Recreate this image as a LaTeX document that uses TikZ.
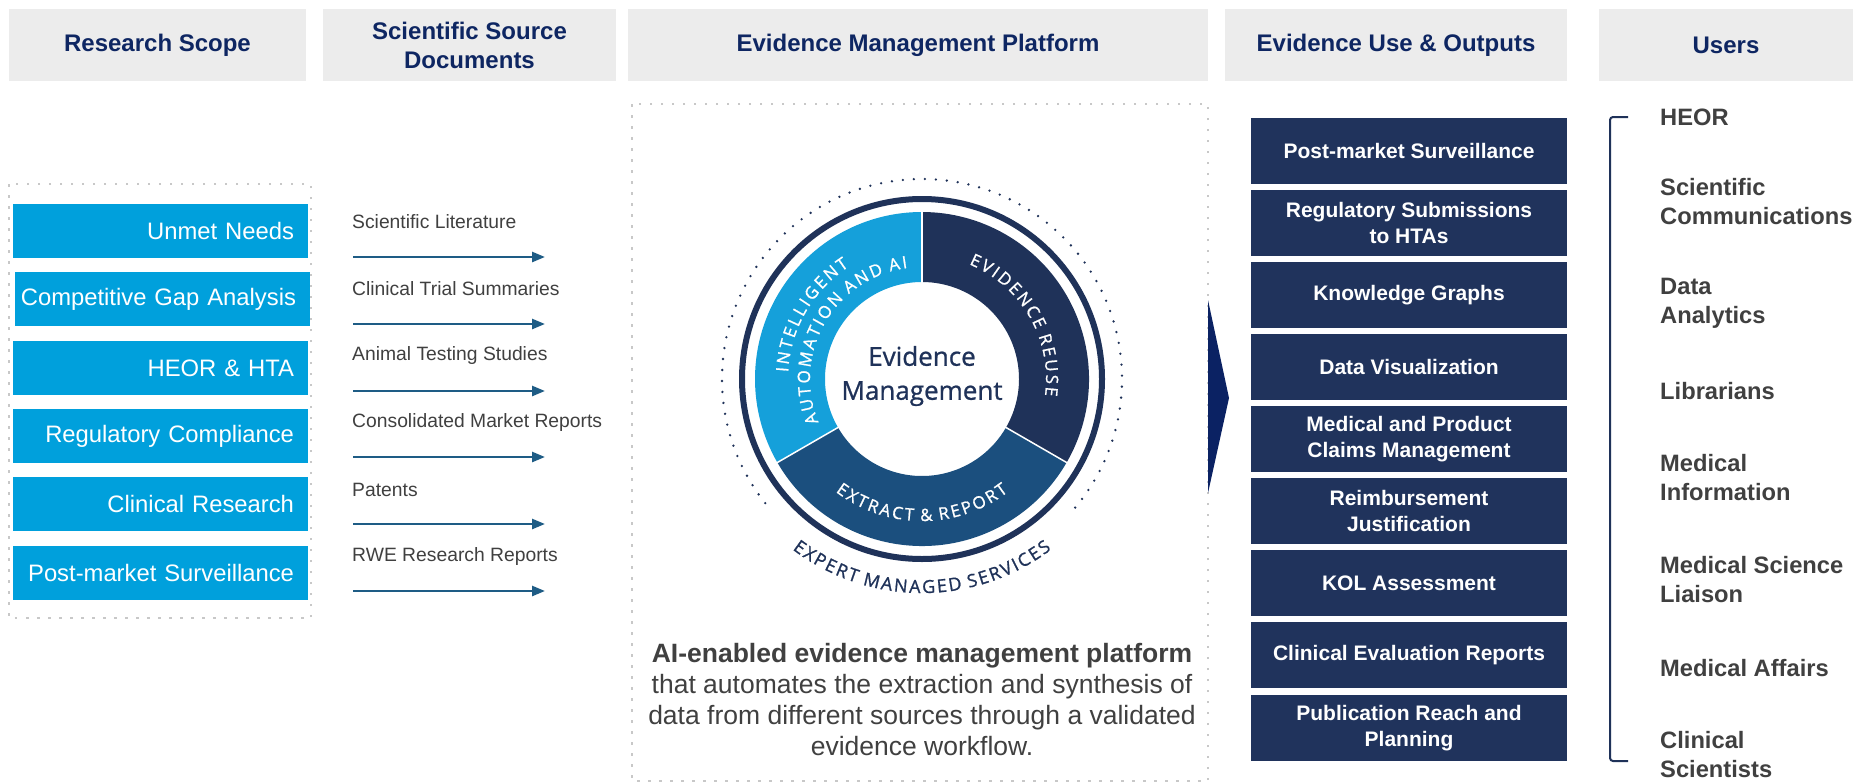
\documentclass[tikz,border=0pt]{standalone}
\usepackage{fontspec}
\setmainfont{Liberation Sans}
\newfontfamily\ringfont[FakeBold=1]{Open Sans}
\newfontfamily\ctrfont[FakeBold=0.8]{Open Sans}
\usetikzlibrary{arrows.meta,decorations.text}
\definecolor{hdrbg}{HTML}{ECECEC}
\definecolor{hdrtxt}{HTML}{0E2662}
\definecolor{scopeblue}{HTML}{00A0DC}
\definecolor{graytxt}{HTML}{404040}
\definecolor{arrowblue}{HTML}{1E5C85}
\definecolor{outnavy}{HTML}{20335C}
\definecolor{segnavy}{HTML}{1F3259}
\definecolor{seglight}{HTML}{15A0DA}
\definecolor{segmid}{HTML}{1B4F7E}
\definecolor{chevcol}{HTML}{0B2263}
\definecolor{dotgray}{HTML}{C8C8C8}
\newcommand{\rl}[1]{\llap{#1}}
\newcommand{\ks}{\kern2.4pt}
\newcommand{\kt}{\kern2pt}
\tikzset{
  hdr/.style={fill=hdrbg, text=hdrtxt, font=\fontsize{24}{29}\selectfont\bfseries, align=center, inner sep=0pt, minimum height=72pt},
  scopebox/.style={fill=scopeblue, text=white, font=\fontsize{23.8}{28}\selectfont, minimum height=54pt, text width=267pt, inner xsep=14pt, inner ysep=0pt, align=right},
  srctext/.style={text=graytxt, font=\fontsize{19.3}{23}\selectfont, anchor=west, inner sep=0pt},
  srcarrow/.style={draw=arrowblue, line width=2.5pt, -{Triangle[length=13pt,width=10pt]}},
  outbox/.style={fill=outnavy, text=white, font=\fontsize{21}{26}\selectfont\bfseries, minimum width=316pt, minimum height=66pt, align=center, inner sep=0pt},
  usertext/.style={text=graytxt, font=\fontsize{23.7}{29}\selectfont\bfseries, anchor=west, align=left, inner sep=0pt},
  dotbox/.style={draw=dotgray, line width=2.5pt, dash pattern=on 2.5pt off 8.5pt},
  ringtext/.style={decorate, decoration={text along path, text align=center, text color=#1}},
}
\begin{document}
\begin{tikzpicture}[x=1pt,y=1pt]
\useasboundingbox (0,0) rectangle (1853,-782);
\fill[white] (0,0) rectangle (1853,-782);

% headers
\node[hdr, minimum width=297pt] (h1) at (157.5,-45) {Research Scope};
\node[hdr, minimum width=293pt] (h2) at (469.5,-45) {Scientific Source\\Documents};
\node[hdr, minimum width=580pt] (h3) at (918,-45) {Evidence Management Platform};
\node[hdr, minimum width=342pt] (h4) at (1396,-45) {Evidence Use \& Outputs};
\node[hdr, minimum width=254pt] (h5) at (1726,-45) {Users};

% research scope
\draw[dotbox] (9,-184) rectangle (311,-618);
\node[scopebox] (s1) at (160.5,-231) {\rl{Unmet Needs}};
\node[scopebox] (s2) at (162.5,-299) {\rl{Competitive Gap Analysis}};
\node[scopebox] (s3) at (160.5,-368) {\rl{HEOR \& HTA}};
\node[scopebox] (s4) at (160.5,-436) {\rl{Regulatory Compliance}};
\node[scopebox] (s5) at (160.5,-504) {\rl{Clinical Research}};
\node[scopebox] (s6) at (160.5,-573) {\rl{Post-market Surveillance}};

% sources
\node[srctext] (d1) at (352,-222) {Scientific Literature};
\node[srctext] (d2) at (352,-289) {Clinical Trial Summaries};
\node[srctext] (d3) at (352,-356) {Animal Testing Studies};
\node[srctext] (d4) at (352,-423) {Consolidated Market Reports};
\node[srctext] (d5) at (352,-490) {Patents};
\node[srctext] (d6) at (352,-557) {RWE Research Reports};
\foreach \i/\y in {1/257,2/324,3/391,4/457,5/524,6/591}{
  \coordinate (a\i s) at (353,-\y);
  \coordinate (a\i e) at (545,-\y);
  \draw[srcarrow] (a\i s) -- (a\i e);
}

% platform
\draw[dotbox] (632,-104) rectangle (1208,-781);
\coordinate (C) at (922,-379);
\fill[segnavy] ([shift={(-30:167)}]C) arc[start angle=-30, end angle=90, radius=167] -- ([shift={(90:97)}]C) arc[start angle=90, end angle=-30, radius=97] -- cycle;
\fill[seglight] ([shift={(90:167)}]C) arc[start angle=90, end angle=210, radius=167] -- ([shift={(210:97)}]C) arc[start angle=210, end angle=90, radius=97] -- cycle;
\fill[segmid] ([shift={(210:167)}]C) arc[start angle=210, end angle=330, radius=167] -- ([shift={(330:97)}]C) arc[start angle=330, end angle=210, radius=97] -- cycle;
\foreach \a in {90,210,330}{
  \draw[white, line width=1.5pt] ([shift={(\a:96)}]C) -- ([shift={(\a:168)}]C);
}
\draw[segnavy, line width=6pt] (C) circle[radius=180];
\draw[segnavy, line width=2.6pt, line cap=round, dash pattern=on 0pt off 11pt] ([shift={(-40:200)}]C) arc[start angle=-40, end angle=220, radius=200];
\node[text=segnavy, font=\ctrfont\fontsize{26}{34}\selectfont, align=center, inner sep=0pt] (ctr) at (922,-376) {Evidence\\Management};

\path[ringtext=white, decoration={text={|\ringfont\fontsize{17}{20}\selectfont|{I\ks}{N\ks}{T\ks}{E\ks}{L\ks}{L\ks}{I\ks}{G\ks}{E\ks}{N\ks}T}}] ([shift={(220:134)}]C) arc[start angle=220, end angle=80, radius=134];
\path[ringtext=white, decoration={text={|\ringfont\fontsize{17}{20}\selectfont|{A\ks}{U\ks}{T\ks}{O\ks}{M\ks}{A\ks}{T\ks}{I\ks}{O\ks}{N\ks} {A\ks}{N\ks}{D\ks} {A\ks}I}}] ([shift={(220:112)}]C) arc[start angle=220, end angle=80, radius=112];
\path[ringtext=white, decoration={text={|\ringfont\fontsize{17}{20}\selectfont|{E\ks}{V\ks}{I\ks}{D\ks}{E\ks}{N\ks}{C\ks}{E\ks} {R\ks}{E\ks}{U\ks}{S\ks}E}}] ([shift={(100:124)}]C) arc[start angle=100, end angle=-40, radius=124];
\path[ringtext=white, decoration={text={|\ringfont\fontsize{17}{20}\selectfont|{E\ks}{X\ks}{T\ks}{R\ks}{A\ks}{C\ks}{T\ks} {\&\ks} {R\ks}{E\ks}{P\ks}{O\ks}{R\ks}T}}] ([shift={(200:142)}]C) arc[start angle=200, end angle=340, radius=142];
\path[ringtext=segnavy, decoration={text={|\ringfont\fontsize{18}{20}\selectfont|{E\kt}{X\kt}{P\kt}{E\kt}{R\kt}{T\kt} {M\kt}{A\kt}{N\kt}{A\kt}{G\kt}{E\kt}{D\kt} {S\kt}{E\kt}{R\kt}{V\kt}{I\kt}{C\kt}{E\kt}S}}] ([shift={(200:214)}]C) arc[start angle=200, end angle=340, radius=214];

\node[text=graytxt, font=\fontsize{26.5}{31}\selectfont, align=center, inner sep=0pt] (desc) at (922,-700) {\textbf{AI-enabled evidence management platform}\\that automates the extraction and synthesis of\\data from different sources through a validated\\evidence workflow.};

% chevron
\fill[chevcol] (1208,-300) -- (1229,-398) -- (1208,-493) -- cycle;

% outputs
\node[outbox] (o1) at (1409,-151) {Post-market Surveillance};
\node[outbox] (o2) at (1409,-223) {Regulatory Submissions\\to HTAs};
\node[outbox] (o3) at (1409,-295) {Knowledge Graphs};
\node[outbox] (o4) at (1409,-367) {Data Visualization};
\node[outbox] (o5) at (1409,-439) {Medical and Product\\Claims Management};
\node[outbox] (o6) at (1409,-511) {Reimbursement\\Justification};
\node[outbox] (o7) at (1409,-583) {KOL Assessment};
\node[outbox] (o8) at (1409,-655) {Clinical Evaluation Reports};
\node[outbox] (o9) at (1409,-728) {Publication Reach and\\Planning};

% users
\coordinate (bt) at (1628,-117);
\coordinate (bb) at (1628,-761);
\draw[segnavy, line width=2pt, rounded corners=3pt] (bt) -- (1610,-117) -- (1610,-761) -- (bb);
\node[usertext] (u1) at (1660,-117) {HEOR};
\node[usertext] (u2) at (1660,-201.5) {Scientific\\Communications};
\node[usertext] (u3) at (1660,-303.5) {Data\\Analytics};
\node[usertext] (u4) at (1660,-391) {Librarians};
\node[usertext] (u5) at (1660,-478) {Medical\\Information};
\node[usertext] (u6) at (1660,-580) {Medical Science\\Liaison};
\node[usertext] (u7) at (1660,-668) {Medical Affairs};
\node[usertext] (u8) at (1660,-755) {Clinical\\Scientists};
\end{tikzpicture}
\end{document}
